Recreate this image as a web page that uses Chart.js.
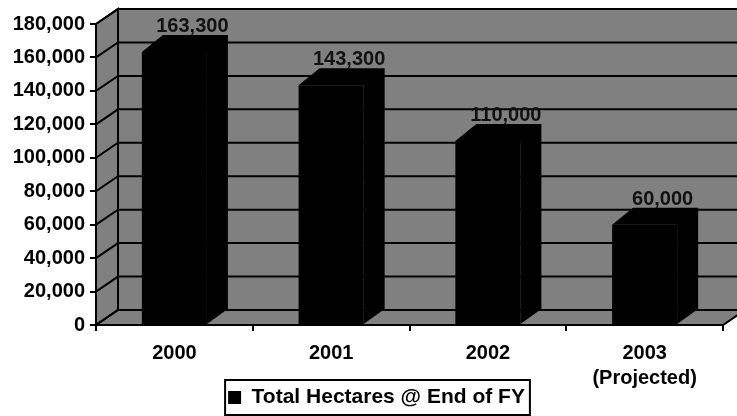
<!DOCTYPE html>
<html lang="en">
<head>
    <meta charset="UTF-8">
    <title>Total Hectares @ End of FY</title>
    <script src="https://cdn.jsdelivr.net/npm/chart.js"></script>
    <style>
        body { margin: 0; background: #fff; }
        #chart { display: block; }
    </style>
</head>
<body>
    <canvas id="chart" width="737" height="416"></canvas>

    <script>
        // data
        const years = ['2000', '2001', '2002', ['2003', '(Projected)']];
        const hectares = [163300, 143300, 110000, 60000];
        const seriesName = 'Total Hectares @ End of FY';
        const yMin = 0;
        const yMax = 180000;
        const yStep = 20000;

        const FONT = '"Liberation Sans", Arial, sans-serif';
        const WALL = { dx: 22, dy: -15 };   // depth of the back wall
        const BAR = { dx: 21, dy: -17 };    // depth of each bar
        const LEGEND_SHIFT = { x: 15, y: 2 };

        const fmt = v => v.toLocaleString('en-US');

        // grey walls + floor behind everything
        const walls = {
            id: 'walls',
            beforeDraw(chart) {
                // let the two-line category label run below the axis box
                chart.scales.x.bottom = chart.height;

                // nudge legend to where the original sits
                const lg = chart.legend;
                if (lg && !lg._shifted) {
                    lg.left += LEGEND_SHIFT.x;
                    lg.right += LEGEND_SHIFT.x;
                    lg.top += LEGEND_SHIFT.y;
                    lg.bottom += LEGEND_SHIFT.y;
                    lg.legendHitBoxes.forEach(h => {
                        h.left += LEGEND_SHIFT.x;
                        h.top += LEGEND_SHIFT.y;
                    });
                    lg._shifted = true;
                }

                const ctx = chart.ctx;
                const a = chart.chartArea;
                const y = chart.scales.y;
                const top = y.getPixelForValue(yMax);
                const bot = y.getPixelForValue(yMin);
                const dx = WALL.dx, dy = WALL.dy;
                ctx.save();
                ctx.fillStyle = '#808080';
                ctx.strokeStyle = '#000';
                ctx.lineWidth = 2;

                // back wall
                ctx.beginPath();
                ctx.rect(a.left + dx, top + dy, a.right - a.left, bot - top);
                ctx.fill();
                ctx.stroke();

                // side wall
                ctx.beginPath();
                ctx.moveTo(a.left, top);
                ctx.lineTo(a.left + dx, top + dy);
                ctx.lineTo(a.left + dx, bot + dy);
                ctx.lineTo(a.left, bot);
                ctx.closePath();
                ctx.fill();
                ctx.stroke();

                // floor
                ctx.beginPath();
                ctx.moveTo(a.left, bot);
                ctx.lineTo(a.right, bot);
                ctx.lineTo(a.right + dx, bot + dy);
                ctx.lineTo(a.left + dx, bot + dy);
                ctx.closePath();
                ctx.fill();
                ctx.stroke();

                // grid lines across side and back
                ctx.beginPath();
                y.ticks.forEach(t => {
                    const py = y.getPixelForValue(t.value);
                    ctx.moveTo(a.left, py);
                    ctx.lineTo(a.left + dx, py + dy);
                    ctx.lineTo(a.right + dx, py + dy);
                });
                ctx.stroke();
                ctx.restore();
            }
        };

        // bar tops/sides, value labels and legend frame
        const bars3d = {
            id: 'bars3d',
            afterDatasetsDraw(chart) {
                const ctx = chart.ctx;
                const meta = chart.getDatasetMeta(0);
                ctx.save();
                meta.data.forEach((bar, i) => {
                    const p = bar.getProps(['x', 'y', 'base', 'width'], true);
                    const l = p.x - p.width / 2;
                    const r = p.x + p.width / 2;
                    ctx.fillStyle = '#000';
                    ctx.beginPath();
                    ctx.moveTo(l, p.y);
                    ctx.lineTo(l + BAR.dx, p.y + BAR.dy);
                    ctx.lineTo(r + BAR.dx, p.y + BAR.dy);
                    ctx.lineTo(r + BAR.dx, p.base + WALL.dy);
                    ctx.lineTo(r, p.base);
                    ctx.lineTo(r, p.y);
                    ctx.closePath();
                    ctx.fill();

                    ctx.font = 'bold 20px ' + FONT;
                    ctx.textAlign = 'center';
                    ctx.textBaseline = 'alphabetic';
                    ctx.fillStyle = '#111';
                    ctx.fillText(fmt(hectares[i]), p.x + 18, p.y - 20);
                });
                ctx.restore();
            },
            afterDraw(chart) {
                const hb = chart.legend && chart.legend.legendHitBoxes[0];
                if (!hb) return;
                const ctx = chart.ctx;
                ctx.save();
                ctx.strokeStyle = '#000';
                ctx.lineWidth = 2;
                ctx.strokeRect(hb.left - 3, hb.top - 7, hb.width + 8, hb.height + 14);
                ctx.restore();
            }
        };

        new Chart(document.getElementById('chart'), {
            type: 'bar',
            data: {
                labels: years,
                datasets: [{
                    label: seriesName,
                    data: hectares,
                    backgroundColor: '#000',
                    borderWidth: 0,
                    barPercentage: 0.83,
                    categoryPercentage: 0.5
                }]
            },
            options: {
                responsive: false,
                animation: false,
                layout: { padding: { top: 24, right: 14, left: 0, bottom: 0 } },
                plugins: {
                    legend: {
                        position: 'bottom',
                        labels: {
                            boxWidth: 13,
                            boxHeight: 13,
                            padding: 10,
                            color: '#000',
                            font: { family: FONT, size: 21, weight: 'bold' }
                        }
                    },
                    tooltip: { enabled: false }
                },
                scales: {
                    x: {
                        grid: {
                            drawOnChartArea: false,
                            drawTicks: true,
                            tickLength: 6,
                            color: '#000',
                            lineWidth: 2
                        },
                        border: { display: true, color: '#000', width: 2 },
                        ticks: {
                            color: '#000',
                            padding: 10,
                            maxRotation: 0,
                            font: { family: FONT, size: 20, weight: 'bold', lineHeight: 1.25 }
                        },
                        afterFit(scale) { scale.height = 50; }
                    },
                    y: {
                        min: yMin,
                        max: yMax,
                        grid: {
                            drawOnChartArea: false,
                            drawTicks: true,
                            tickLength: 6,
                            color: '#000',
                            lineWidth: 2
                        },
                        border: { display: true, color: '#000', width: 2 },
                        ticks: {
                            stepSize: yStep,
                            color: '#000',
                            padding: 5,
                            callback: v => fmt(v),
                            font: { family: FONT, size: 20, weight: 'bold' }
                        },
                        afterFit(scale) { scale.width = 96; }
                    }
                }
            },
            plugins: [walls, bars3d]
        });
    </script>
</body>
</html>
